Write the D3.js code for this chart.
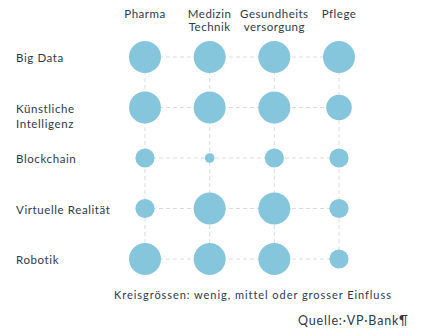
<!DOCTYPE html>
<html><head><meta charset="utf-8">
<script src="https://cdn.jsdelivr.net/npm/d3@7"></script>
<style>body{margin:0;background:#fff;} text{font-family:Lato,"Noto Sans",sans-serif;fill:#2e3a4a;}</style>
</head><body>
<svg id="c" width="428" height="332"></svg>
<script>
const columns = [["Pharma"], ["Medizin", "Technik"], ["Gesundheits", "versorgung"], ["Pflege"]];
const rows = [["Big Data"], ["Künstliche", "Intelligenz"], ["Blockchain"], ["Virtuelle Realität"], ["Robotik"]];
// impact values (0-10) per row, in column order
const bigData     = [10, 10, 10, 10];
const kuenstliche = [10, 10, 10, 8];
const blockchain  = [6, 3, 6, 6];
const virtuelle   = [6, 10, 10, 6];
const robotik     = [10, 10, 10, 6];
const values = [bigData, kuenstliche, blockchain, virtuelle, robotik];
const note = "Kreisgrössen: wenig, mittel oder grosser Einfluss";
const source = "Quelle:·VP·Bank¶";

const svg = d3.select("#c");
const x = d3.scalePoint().domain(d3.range(columns.length)).range([145, 339]);
const y = d3.scalePoint().domain(d3.range(rows.length)).range([57, 259]);
const r = d3.scaleLinear().domain([0, 10]).range([0, 16]);

const grid = svg.append("g").attr("stroke", "#dcdcdc").attr("stroke-dasharray", "4,3").attr("stroke-width", 1);
rows.forEach((_, i) => grid.append("line").attr("x1", x(0)).attr("x2", x(columns.length - 1)).attr("y1", y(i)).attr("y2", y(i)));
columns.forEach((_, j) => grid.append("line").attr("x1", x(j)).attr("x2", x(j)).attr("y1", y(0)).attr("y2", y(rows.length - 1)));

const cells = [];
values.forEach((row, i) => row.forEach((v, j) => cells.push({i, j, v})));
svg.append("g").selectAll("circle").data(cells).join("circle")
  .attr("cx", d => x(d.j)).attr("cy", d => y(d.i)).attr("r", d => r(d.v))
  .attr("fill", "#86c6dc");

// column headers
columns.forEach((lines, j) => {
  const t = svg.append("text").attr("text-anchor", "middle").attr("font-size", 11.5).attr("letter-spacing", 0.5);
  lines.forEach((l, k) => t.append("tspan").attr("x", x(j)).attr("y", 18 + k * 13).text(l));
});
// row labels
rows.forEach((lines, i) => {
  const t = svg.append("text").attr("font-size", 11.5).attr("letter-spacing", 0.6);
  lines.forEach((l, k) => t.append("tspan").attr("x", 16).attr("y", y(i) + 5 + k * 15).text(l));
});

svg.append("text").attr("x", 114).attr("y", 299).attr("font-size", 11).attr("letter-spacing", 0.95).text(note);
svg.append("text").attr("x", 298).attr("y", 325).attr("font-size", 12.5).attr("letter-spacing", 0.8).text(source);
</script>
</body></html>
